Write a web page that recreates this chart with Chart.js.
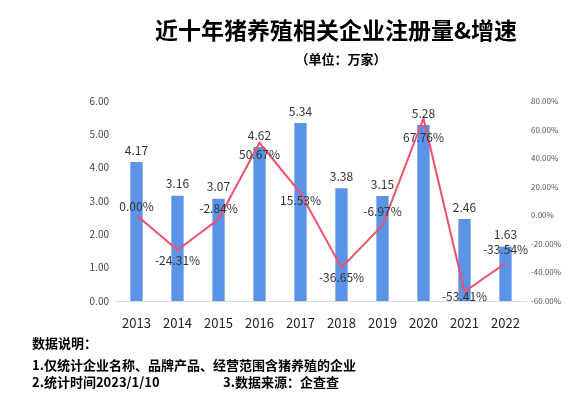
<!DOCTYPE html>
<html>
<head>
<meta charset="utf-8">
<script src="https://cdn.jsdelivr.net/npm/chart.js@4"></script>
<style>
  body { margin: 0; background: #fff; font-family: "Noto Sans CJK SC", "Noto Sans", sans-serif; }
  #wrap { position: relative; width: 580px; height: 394px; overflow: hidden; }
  #chart { position: absolute; left: 0; top: 0; }
  .txt { position: absolute; color: #000; font-weight: bold; white-space: nowrap; }
  #title { left: 0; width: 672px; top: 14px; text-align: center; font-size: 23px; line-height: 30px; }
  #sub { left: 0; width: 682px; top: 50px; text-align: center; font-size: 13px; line-height: 18px; }
  .note { left: 32px; font-size: 13px; line-height: 18px; }
</style>
</head>
<body>
<div id="wrap">
  <canvas id="chart" width="580" height="394"></canvas>
  <div class="txt" id="title">近十年猪养殖相关企业注册量&amp;增速</div>
  <div class="txt" id="sub">（单位：万家）</div>
  <div class="txt note" style="top:334px">数据说明：</div>
  <div class="txt note" style="top:356px">1.仅统计企业名称、品牌产品、经营范围含猪养殖的企业</div>
  <div class="txt note" style="top:373px">2.统计时间2023/1/10</div>
  <div class="txt note" style="top:373px; left:223px">3.数据来源：企查查</div>
</div>
<script>
const years = ["2013", "2014", "2015", "2016", "2017", "2018", "2019", "2020", "2021", "2022"];
const registrations = [4.17, 3.16, 3.07, 4.62, 5.34, 3.38, 3.15, 5.28, 2.46, 1.63];
const growth = [0.00, -24.31, -2.84, 50.67, 15.53, -36.65, -6.97, 67.76, -53.41, -33.54];

// vertical nudge of each growth label relative to its point (px)
const growthLabelShift = [-9, 10, -11, 12, 7, 10, -14, 19, 5, -14];

const labelFont = '12px "Noto Sans CJK SC", "Noto Sans", sans-serif';

const valueLabels = {
  id: "valueLabels",
  afterDatasetsDraw(chart) {
    const ctx = chart.ctx;
    ctx.save();
    ctx.font = labelFont;
    ctx.fillStyle = "#333";
    ctx.textAlign = "center";
    ctx.textBaseline = "middle";
    chart.getDatasetMeta(1).data.forEach((bar, i) => {
      ctx.fillText(registrations[i].toFixed(2), bar.x, bar.y - 12);
    });
    chart.getDatasetMeta(0).data.forEach((pt, i) => {
      ctx.fillText(growth[i].toFixed(2) + "%", pt.x, pt.y + growthLabelShift[i]);
    });
    ctx.restore();
  },
};

new Chart(document.getElementById("chart").getContext("2d"), {
  data: {
    labels: years,
    datasets: [
      {
        type: "line",
        data: growth,
        yAxisID: "y1",
        borderColor: "#f0506a",
        borderWidth: 2,
        pointRadius: 0,
        tension: 0,
        order: 0,
      },
      {
        type: "bar",
        data: registrations,
        yAxisID: "y",
        backgroundColor: "#5b93e6",
        barPercentage: 0.3,
        categoryPercentage: 1,
        order: 1,
      },
    ],
  },
  options: {
    responsive: false,
    animation: false,
    layout: { padding: { top: 101, left: 0, right: 0, bottom: 0 } },
    plugins: {
      legend: { display: false },
      tooltip: { enabled: false },
    },
    scales: {
      x: {
        grid: { display: false, drawTicks: false },
        border: { color: "#d9d9d9", width: 1 },
        ticks: {
          padding: 14,
          color: "#222",
          font: { size: 13, family: '"Noto Sans CJK SC", "Noto Sans", sans-serif' },
        },
        afterFit: (scale) => { scale.height = 93; },
      },
      y: {
        position: "left",
        min: 0,
        max: 6,
        grid: { display: false, drawTicks: false },
        border: { display: false },
        ticks: {
          stepSize: 1,
          padding: 7,
          color: "#444",
          font: { size: 10, family: '"Noto Sans CJK SC", "Noto Sans", sans-serif' },
          callback: (v) => v.toFixed(2),
        },
        afterFit: (scale) => { scale.width = 116; },
      },
      y1: {
        position: "right",
        min: -60,
        max: 80,
        grid: { display: false, drawTicks: false },
        border: { display: false },
        ticks: {
          stepSize: 20,
          padding: 5,
          color: "#555",
          font: { size: 8, family: '"Noto Sans CJK SC", "Noto Sans", sans-serif' },
          callback: (v) => v.toFixed(2) + "%",
        },
        afterFit: (scale) => { scale.width = 54; },
      },
    },
  },
  plugins: [valueLabels],
});
</script>
</body>
</html>
